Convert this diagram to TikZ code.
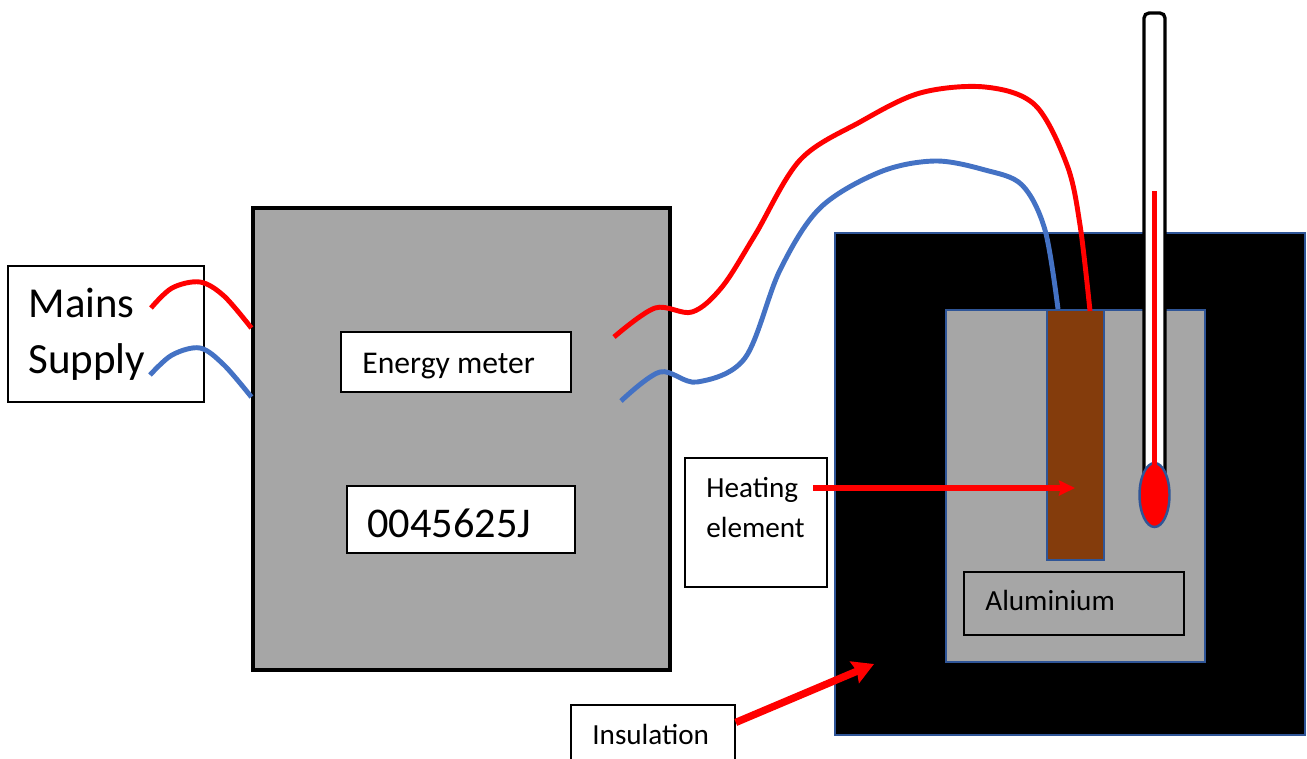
\documentclass[tikz,border=0pt]{standalone}
\usepackage{fontspec}
\setmainfont{Carlito}
\usetikzlibrary{arrows.meta,shapes.geometric}
\definecolor{panelgray}{HTML}{A6A6A6}
\definecolor{edgeblue}{HTML}{2F5597}
\definecolor{wireblue}{HTML}{4472C4}
\definecolor{elementbrown}{HTML}{843C0C}
\tikzset{
    labelbox/.style={draw=black, fill=white, line width=0.9pt, inner sep=0},
    word/.style={anchor=base west, inner sep=0, text=black},
    blueedge/.style={draw=edgeblue, line width=1.4pt, inner sep=0},
    redwire/.style={draw=red, line width=2.8pt},
    bluewire/.style={draw=wireblue, line width=2.8pt},
}
\begin{document}
\begin{tikzpicture}[x=0.02cm, y=-0.02cm]
    \useasboundingbox (0,0) rectangle (1307,758);

    % Mains
    \node[labelbox, minimum width=3.92cm, minimum height=2.72cm] (mainsbox) at (106,334) {};
    \node[word, font=\fontsize{24.3}{28}\selectfont] (mainstext) at (28.5,317) {Mains};
    \node[word, font=\fontsize{24.5}{28}\selectfont] (supplytext) at (28,373) {Supply};

    % Meter
    \node[draw=black, fill=panelgray, line width=1.9pt, inner sep=0, minimum width=8.34cm, minimum height=9.24cm] (meter) at (461.5,439) {};
    \node[labelbox, minimum width=4.6cm, minimum height=1.2cm] (meterbox) at (456,362) {};
    \node[word, font=\fontsize{18}{21}\selectfont] (metertext) at (362,373) {Energy meter};
    \node[labelbox, minimum width=4.56cm, minimum height=1.34cm] (countbox) at (461,519.5) {};
    \node[word, font=\fontsize{24.1}{28}\selectfont] (counttext) at (367,537) {0045625J};

    % Calorimeter
    \node[blueedge, fill=black, minimum width=9.4cm, minimum height=10.04cm] (insulation) at (1070,484) {};
    \node[blueedge, fill=panelgray, minimum width=5.18cm, minimum height=7.04cm] (block) at (1075.5,486) {};
    \node[blueedge, fill=elementbrown, minimum width=1.14cm, minimum height=5cm] (element) at (1075.5,435) {};
    \node[draw=black, line width=0.9pt, inner sep=0, minimum width=4.4cm, minimum height=1.26cm] (alubox) at (1074,603.5) {};
    \node[word, font=\fontsize{16.6}{19}\selectfont] (alutext) at (985,610) {Aluminium};

    % Thermometer
    \node[draw=black, fill=white, line width=1.9pt, rounded corners=0.1cm, inner sep=0, minimum width=0.42cm, minimum height=9.44cm] (thermo) at (1154.5,249) {};
    \node[ellipse, blueedge, fill=red, minimum width=0.6cm, minimum height=1.28cm] (bulb) at (1154.5,495) {};
    \coordinate (mercury) at (1154.5,191);
    \draw[draw=red, line width=2.4pt] (mercury) -- (bulb.center);

    % Wires
    \coordinate (redin) at (151,308);
    \coordinate (bluein) at (150,375);
    \coordinate (redout) at (614,337);
    \coordinate (blueout) at (621,401);
    \draw[redwire] plot[smooth, tension=0.55] coordinates {(redin) (172,288) (200,282) (224,296) (meter.west |- 0,328)};
    \draw[bluewire] plot[smooth, tension=0.55] coordinates {(bluein) (172,355) (200,348) (224,365) (meter.west |- 0,397)};
    \draw[redwire] plot[smooth, tension=0.55] coordinates {(redout) (655,308) (692,312) (722,287) (755,235) (800,160) (860,122) (920,93) (985,87) (1035,105) (1067,165) (1080,225) (1090,311)};
    \draw[bluewire] plot[smooth, tension=0.55] coordinates {(blueout) (660,372) (697,382) (745,358) (780,270) (820,208) (880,172) (935,161) (985,170) (1022,185) (1045,230) (1058,309)};

    % Labels
    \node[labelbox, minimum width=2.84cm, minimum height=2.58cm] (heatbox) at (756,522.5) {};
    \node[word, font=\fontsize{16.6}{19}\selectfont] (heattext) at (706,497) {Heating};
    \node[word, font=\fontsize{16.6}{19}\selectfont] (elementtext) at (706,537) {element};
    \node[labelbox, minimum width=3.28cm, minimum height=1.4cm] (insulbox) at (653,740) {};
    \node[word, font=\fontsize{16.6}{19}\selectfont] (insultext) at (592,744) {Insulation};
    \coordinate (heatstart) at (813,488);
    \coordinate (heattip) at (1075,488);
    \coordinate (insultip) at (874,664);
    \draw[-{Stealth[length=0.32cm, width=0.3cm, inset=0.04cm]}, draw=red, fill=red, line width=2.9pt] (heatstart) -- (heattip);
    \draw[-{Stealth[length=0.42cm, width=0.46cm, inset=0.05cm]}, draw=red, fill=red, line width=4.2pt] (insulbox.12) -- (insultip);
\end{tikzpicture}
\end{document}
